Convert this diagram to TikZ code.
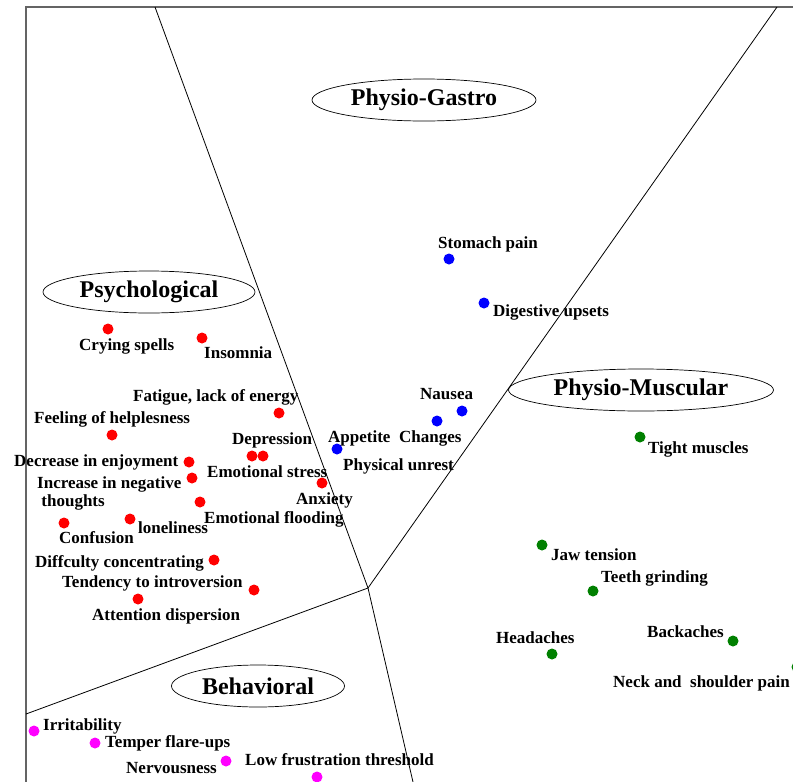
\documentclass[tikz,border=0pt]{standalone}
\usepackage{fontspec}
\setmainfont{Liberation Serif}
\usetikzlibrary{shapes.geometric}
\definecolor{symred}{RGB}{255,0,0}
\definecolor{symblue}{RGB}{0,0,255}
\definecolor{symgreen}{RGB}{0,128,0}
\definecolor{sympink}{RGB}{255,0,255}
\definecolor{framegray}{RGB}{100,100,100}
\tikzset{
    symdot/.style={circle, inner sep=0pt, minimum size=11pt},
    lbl/.style={anchor=base west, inner sep=0pt, font=\fontsize{17}{19}\selectfont\bfseries},
    region/.style={ellipse, draw, line width=0.7pt, inner sep=0pt, font=\fontsize{24}{26}\selectfont\bfseries},
    border/.style={line width=0.8pt}
}
\begin{document}
\begin{tikzpicture}[x=1pt,y=-1pt]
    \useasboundingbox (0,0) rectangle (793,782);
    \clip (0,0) rectangle (793,782);
    \draw[framegray, line width=1.2pt] (26,782) -- (26,7) -- (800,7);
    \coordinate (hub) at (368,588);
    \coordinate (topA) at (155,7);
    \coordinate (topB) at (777,7);
    \coordinate (leftC) at (26,714);
    \coordinate (botD) at (413,782);
    \draw[border] (topA) -- (hub) -- (botD);
    \draw[border] (topB) -- (hub) -- (leftC);
    \node[region, minimum width=224pt, minimum height=42pt] (gastro) at (424,100) {Physio-Gastro};
    \node[region, minimum width=212pt, minimum height=42pt] (psycho) at (149,292) {Psychological};
    \node[region, minimum width=265pt, minimum height=42pt] (muscle) at (641,390) {Physio-Muscular};
    \node[region, minimum width=173pt, minimum height=42pt] (behave) at (258,686) {Behavioral};
    % psychological
    \node[symdot, fill=symred] (cry) at (108,329) {};
    \node[symdot, fill=symred] (insom) at (202,338) {};
    \node[symdot, fill=symred] (fatig) at (279,413) {};
    \node[symdot, fill=symred] (helpl) at (112,435) {};
    \node[symdot, fill=symred] (depr) at (252,456) {};
    \node[symdot, fill=symred] (emstr) at (263,456) {};
    \node[symdot, fill=symred] (enjoy) at (189,462) {};
    \node[symdot, fill=symred] (negth) at (192,478) {};
    \node[symdot, fill=symred] (anxi) at (322,483) {};
    \node[symdot, fill=symred] (flood) at (200,502) {};
    \node[symdot, fill=symred] (confu) at (64,523) {};
    \node[symdot, fill=symred] (lonel) at (130,519) {};
    \node[symdot, fill=symred] (conce) at (214,560) {};
    \node[symdot, fill=symred] (intro) at (254,590) {};
    \node[symdot, fill=symred] (atten) at (138,599) {};
    \node[lbl] (crylbl) at (79,350) {Crying spells};
    \node[lbl] (insomlbl) at (204,358) {Insomnia};
    \node[lbl] (fatiglbl) at (133,401) {Fatigue, lack of energy};
    \node[lbl] (helpllbl) at (34,423) {Feeling of helplesness};
    \node[lbl] (deprlbl) at (232,444) {Depression};
    \node[lbl] (enjoylbl) at (14,466) {Decrease in enjoyment};
    \node[lbl] (emstrlbl) at (207,477) {Emotional stress};
    \node[lbl, align=left, anchor=north west] (negthlbl) at (37,476.5) {Increase in negative\\[-1pt]\ thoughts};
    \node[lbl] (anxilbl) at (296,504) {Anxiety};
    \node[lbl] (floodlbl) at (204,523) {Emotional flooding};
    \node[lbl] (confulbl) at (59,543) {Confusion};
    \node[lbl] (lonellbl) at (138,533) {loneliness};
    \node[lbl] (concelbl) at (35,567) {Diffculty concentrating};
    \node[lbl] (introlbl) at (62,587) {Tendency to introversion};
    \node[lbl] (attenlbl) at (92,620) {Attention dispersion};
    % physio-gastro
    \node[symdot, fill=symblue] (stoma) at (449,259) {};
    \node[symdot, fill=symblue] (diges) at (484,303) {};
    \node[symdot, fill=symblue] (nause) at (462,411) {};
    \node[symdot, fill=symblue] (chang) at (437,421) {};
    \node[symdot, fill=symblue] (appet) at (337,449) {};
    \node[lbl] (stomalbl) at (438,248) {Stomach pain};
    \node[lbl] (digeslbl) at (493,316) {Digestive upsets};
    \node[lbl] (nauselbl) at (420,399) {Nausea};
    \node[lbl] (appetlbl) at (328,442) {Appetite};
    \node[lbl] (changlbl) at (399,442) {Changes};
    \node[lbl] (unrelbl) at (343,470) {Physical unrest};
    % physio-muscular
    \node[symdot, fill=symgreen] (tight) at (640,437) {};
    \node[symdot, fill=symgreen] (jawt) at (542,545) {};
    \node[symdot, fill=symgreen] (teeth) at (593,591) {};
    \node[symdot, fill=symgreen] (heada) at (552,654) {};
    \node[symdot, fill=symgreen] (backa) at (733,641) {};
    \node[symdot, fill=symgreen] (neck) at (797,667) {};
    \node[lbl] (tightlbl) at (648,453) {Tight muscles};
    \node[lbl] (jawtlbl) at (551,560) {Jaw tension};
    \node[lbl] (teethlbl) at (601,582) {Teeth grinding};
    \node[lbl] (headalbl) at (496,643) {Headaches};
    \node[lbl] (backalbl) at (647,637) {Backaches};
    \node[lbl] (necklbl) at (613,687) {Neck and\ \ shoulder pain};
    % behavioral
    \node[symdot, fill=sympink] (irrit) at (34,731) {};
    \node[symdot, fill=sympink] (tempe) at (95,743) {};
    \node[symdot, fill=sympink] (nervo) at (226,761) {};
    \node[symdot, fill=sympink] (frust) at (317,777) {};
    \node[lbl] (irritlbl) at (43,730) {Irritability};
    \node[lbl] (tempelbl) at (105,747) {Temper flare-ups};
    \node[lbl] (nervolbl) at (126,773) {Nervousness};
    \node[lbl] (frustlbl) at (245,765) {Low frustration threshold};
\end{tikzpicture}
\end{document}
